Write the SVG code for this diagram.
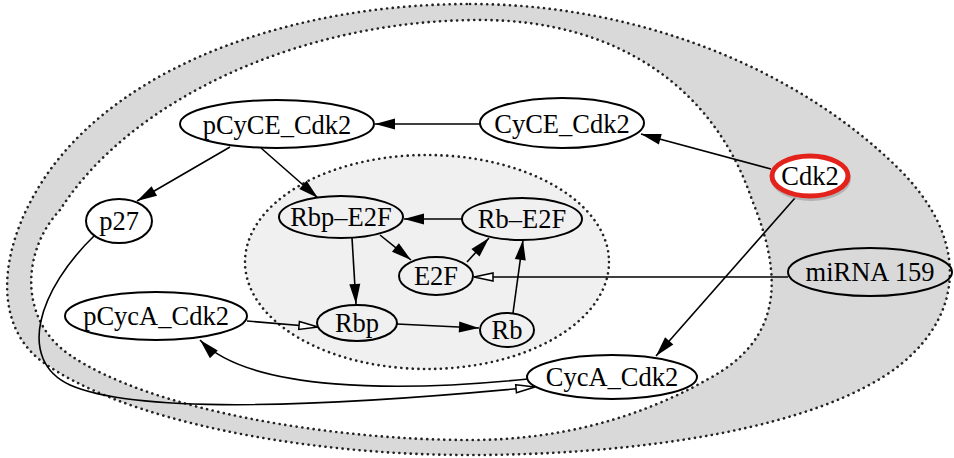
<svg xmlns="http://www.w3.org/2000/svg" width="954" height="458" viewBox="0 0 954 458">
<style>
.dot{stroke:#222;stroke-width:2.6;stroke-dasharray:0.1 5.6;stroke-linecap:round}
.nd{fill:none;stroke:#000;stroke-width:2}
.t{font-family:"Liberation Serif","Times New Roman",serif;font-size:26.5px;fill:#000;text-anchor:middle}
.e{fill:none;stroke:#000;stroke-width:1.6}
.f{marker-end:url(#af)}
.o{marker-end:url(#ao)}
</style>
<defs>
<marker id="af" markerWidth="22" markerHeight="12" refX="20" refY="6" orient="auto" markerUnits="userSpaceOnUse" overflow="visible"><path d="M0,0.5 L20,6 L0,11.5 z" fill="#000"/></marker>
<marker id="ao" markerWidth="22" markerHeight="12" refX="20" refY="6" orient="auto" markerUnits="userSpaceOnUse" overflow="visible"><path d="M1,2 L20,6 L1,10 z" fill="#fff" stroke="#000" stroke-width="1.5"/></marker>
</defs>
<rect width="954" height="458" fill="#fff"/>
<g id="regions">
<path class="dot" fill="#d9d9d9" d="M470,4 C640,4 800,70 900,170 C965,235 968,310 900,365 C820,428 640,455 470,455 C300,455 120,420 40,360 C-10,320 0,240 50,170 C130,60 300,4 470,4 Z"/>
<path class="dot" fill="#fff" d="M480,20 C620,20 715,90 752,200 C785,280 780,340 710,378 C640,418 560,440 470,440 C330,440 150,410 70,355 C18,320 22,250 60,210 C130,100 300,20 480,20 Z"/>
<ellipse class="dot" fill="#f0f0f0" cx="427" cy="262" rx="182" ry="107"/>
</g>
<g id="connectors">
<line class="e f" x1="480" y1="124" x2="375" y2="124"/>
<line class="e f" x1="771" y1="169" x2="641" y2="134"/>
<line class="e f" x1="795" y1="198" x2="656" y2="356"/>
<line class="e f" x1="230" y1="147" x2="137" y2="201"/>
<line class="e f" x1="261" y1="148" x2="318" y2="198"/>
<line class="e f" x1="462" y1="219" x2="404" y2="219"/>
<line class="e f" x1="380" y1="235" x2="411" y2="260"/>
<line class="e f" x1="467" y1="262" x2="489" y2="238"/>
<line class="e f" x1="352" y1="238" x2="356" y2="304"/>
<line class="e f" x1="397" y1="324" x2="479" y2="328"/>
<line class="e f" x1="513" y1="313" x2="523" y2="240"/>
<line class="e o" x1="788" y1="277" x2="474" y2="277"/>
<line class="e o" x1="247" y1="321" x2="318" y2="327"/>
<path class="e f" d="M528,379 C400,392 250,392 200,340"/>
<path class="e o" d="M95,235 C38,290 16,360 70,385 C150,420 400,400 535,387"/>
</g>
<g id="pCyCE_Cdk2"><ellipse class="nd" cx="277" cy="124" rx="97" ry="24"/><text class="t" x="277" y="134">pCyCE_Cdk2</text></g>
<g id="CyCE_Cdk2"><ellipse class="nd" cx="562" cy="123" rx="82" ry="25"/><text class="t" x="562" y="133">CyCE_Cdk2</text></g>
<g id="Cdk2"><ellipse cx="811" cy="179" rx="40" ry="22" fill="#999" opacity="0.6"/><ellipse cx="810" cy="176" rx="38" ry="20" fill="#fff" stroke="#e3231b" stroke-width="5"/><text class="t" x="810" y="185">Cdk2</text></g>
<g id="p27"><ellipse class="nd" cx="119" cy="221" rx="33" ry="22"/><text class="t" x="119" y="230">p27</text></g>
<g id="Rbp-E2F"><ellipse class="nd" cx="341" cy="217" rx="62" ry="21"/><text class="t" x="341" y="226">Rbp–E2F</text></g>
<g id="Rb-E2F"><ellipse class="nd" cx="522" cy="219" rx="60" ry="21"/><text class="t" x="522" y="228">Rb–E2F</text></g>
<g id="E2F"><ellipse class="nd" cx="436" cy="276" rx="37" ry="19"/><text class="t" x="436" y="285">E2F</text></g>
<g id="Rbp"><ellipse class="nd" cx="357" cy="323" rx="40" ry="18"/><text class="t" x="357" y="332">Rbp</text></g>
<g id="Rb"><ellipse class="nd" cx="507" cy="330" rx="27" ry="17"/><text class="t" x="507" y="339">Rb</text></g>
<g id="pCycA_Cdk2"><ellipse class="nd" cx="156" cy="316" rx="91" ry="24"/><text class="t" x="156" y="325">pCycA_Cdk2</text></g>
<g id="CycA_Cdk2"><ellipse class="nd" cx="612" cy="377" rx="85" ry="22"/><text class="t" x="612" y="386">CycA_Cdk2</text></g>
<g id="miRNA159"><ellipse class="nd" cx="870" cy="272" rx="82" ry="24"/><text class="t" x="870" y="281">miRNA 159</text></g>
</svg>
